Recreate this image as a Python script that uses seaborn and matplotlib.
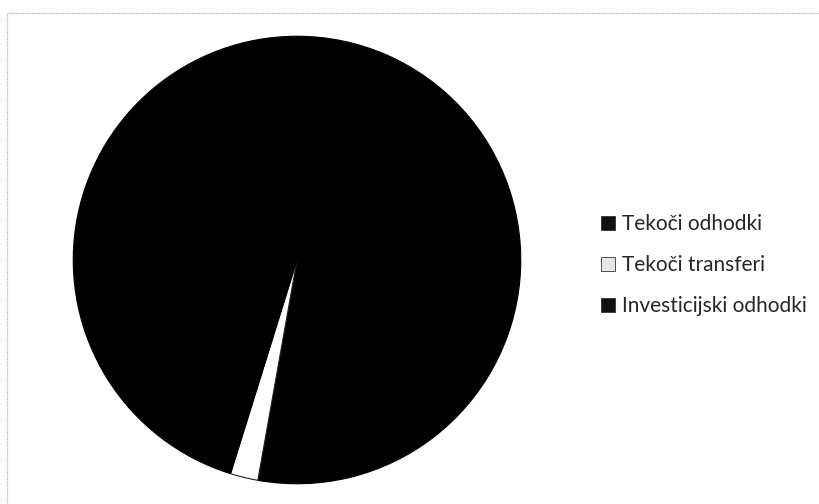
import matplotlib
matplotlib.use("Agg")
import matplotlib.pyplot as plt
import seaborn as sns
from matplotlib.patches import Patch

# shares (percent)
categories = ["Tekoči odhodki", "Tekoči transferi", "Investicijski odhodki"]
shares = [52.8, 2.0, 45.2]
slice_colors = ["#000000", "#ffffff", "#000000"]
legend_colors = ["#111111", "#e6e6e6", "#111111"]

sns.set_theme(style="white")
plt.rcParams["font.family"] = ["Lato", "DejaVu Sans"]

fig = plt.figure(figsize=(8.19, 5.04), dpi=100)

# faint scanned frame on the top and left edge
fig.add_artist(plt.Line2D([7 / 819, 1], [1 - 13 / 504, 1 - 13 / 504], color="#a8a8a8",
                          lw=0.8, ls=(0, (1, 1)), transform=fig.transFigure))
fig.add_artist(plt.Line2D([7 / 819, 7 / 819], [0, 1 - 13 / 504], color="#a8a8a8",
                          lw=0.8, ls=(0, (1, 1)), transform=fig.transFigure))

cx, cy, r = 297, 260, 226
ax = fig.add_axes([(cx - r) / 819, (504 - cy - r) / 504, 2 * r / 819, 2 * r / 504])
wedges, _ = ax.pie(shares, colors=slice_colors, startangle=90, counterclock=False,
                   wedgeprops=dict(linewidth=0.8))
for w, c in zip(wedges, slice_colors):
    # dark slices get a matching edge, the white one a thin dark rim
    w.set_edgecolor(c if c != "#ffffff" else "#222222")
ax.set_xlim(-1.01, 1.01)
ax.set_ylim(-1.01, 1.01)
ax.set_aspect("equal")
ax.axis("off")

handles = [Patch(facecolor=c, edgecolor="#333333", linewidth=0.6) for c in legend_colors]
fig.legend(handles, categories, loc="upper left",
           bbox_to_anchor=(601 / 819, 1 - 214 / 504), frameon=False,
           fontsize=15, handlelength=0.65, handleheight=0.65, handletextpad=0.35,
           labelspacing=1.02, borderpad=0, borderaxespad=0)

fig.savefig("out.png", dpi=100, facecolor="white")
